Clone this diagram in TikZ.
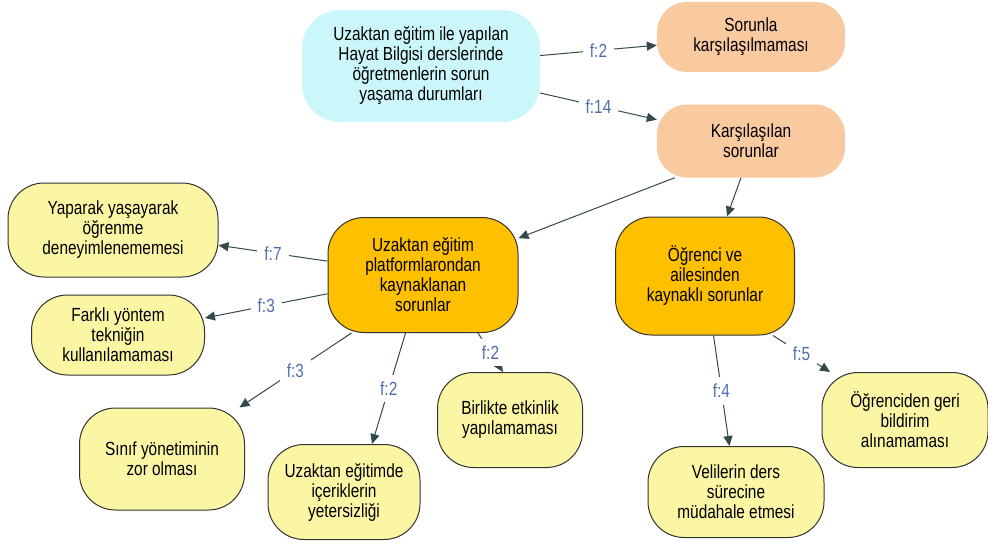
\documentclass[tikz,border=0pt]{standalone}
\usepackage{fontspec}
\setmainfont{Liberation Sans}[FakeStretch=0.81]
\usetikzlibrary{arrows.meta}

\definecolor{rootcyan}{HTML}{CCF7FA}
\definecolor{peach}{HTML}{F9C9A0}
\definecolor{gold}{HTML}{FFC000}
\definecolor{paleyellow}{HTML}{FBF6A4}
\definecolor{edgegray}{HTML}{34494B}
\definecolor{freqblue}{HTML}{4F6EAE}

\begin{document}
\begin{tikzpicture}[x=1pt,y=-1pt]
        \tikzset{box/.style={rounded corners=30pt,align=center,inner sep=0pt,
                font=\fontsize{19}{20}\selectfont},
            rootbox/.style={box,fill=rootcyan,rounded corners=38pt},
            peachbox/.style={box,fill=peach},
            goldbox/.style={box,fill=gold,draw=black!80,line width=1pt,rounded corners=36pt},
            leafbox/.style={box,fill=paleyellow,draw=black!80,line width=1pt,rounded corners=36pt},
            freq/.style={fill=white,text=freqblue,inner sep=7pt,
                font=\fontsize{19}{20}\selectfont},
            conn/.style={draw=edgegray,line width=1pt,-{Triangle[length=10pt,width=9pt]}}}
        \useasboundingbox (0,0) rectangle (988,543);

        % top level
        \node[rootbox,minimum width=238pt,minimum height=112pt] (root) at (421,66)
            {Uzaktan eğitim ile yapılan\\Hayat Bilgisi derslerinde\\öğretmenlerin sorun\\yaşama durumları};
        \node[peachbox,minimum width=188pt,minimum height=70pt] (nosorun) at (751,37)
            {Sorunla\\karşılaşılmaması};
        \node[peachbox,minimum width=188pt,minimum height=73pt] (sorun) at (751,141)
            {Karşılaşılan\\sorunlar};

        % problem groups
        \node[goldbox,minimum width=190pt,minimum height=115pt] (platform) at (423,275)
            {Uzaktan eğitim\\platformlarondan\\kaynaklanan\\sorunlar};
        \node[goldbox,minimum width=179pt,minimum height=118pt] (ogrenci) at (705,276)
            {Öğrenci ve\\ailesinden\\kaynaklı sorunlar};

        % leaves
        \node[leafbox,minimum width=210pt,minimum height=94pt] (yaparak) at (113,230)
            {Yaparak yaşayarak\\öğrenme\\deneyimlenememesi};
        \node[leafbox,minimum width=173pt,minimum height=80pt] (yontem) at (118,335)
            {Farklı yöntem\\tekniğin\\kullanılamaması};
        \node[leafbox,minimum width=165pt,minimum height=102pt] (sinif) at (162,459)
            {Sınıf yönetiminin\\zor olması};
        \node[leafbox,minimum width=152pt,minimum height=95pt] (icerik) at (344,492)
            {Uzaktan eğitimde\\içeriklerin\\yetersizliği};
        \node[leafbox,minimum width=145pt,minimum height=95pt] (birlikte) at (510,420)
            {Birlikte etkinlik\\yapılamaması};
        \node[leafbox,minimum width=176pt,minimum height=91pt] (veli) at (736,492)
            {Velilerin ders\\sürecine\\müdahale etmesi};
        \node[leafbox,minimum width=166pt,minimum height=95pt] (geri) at (905,420)
            {Öğrenciden geri\\bildirim\\alınamaması};

        % connectors
        \draw[conn] (root) -- node[freq] {f:2} (nosorun);
        \draw[conn] (root) -- node[freq] {f:14} (sorun);
        \draw[conn] ([xshift=18pt]sorun.south west) -- (platform);
        \draw[conn] ([xshift=-10pt]sorun.south) -- ([xshift=22pt]ogrenci.north);
        \draw[conn] (platform) -- node[freq] {f:7} (yaparak);
        \draw[conn] (platform) -- node[freq] {f:3} (yontem);
        \draw[conn] ([xshift=24pt]platform.south west) -- node[freq] {f:3} (sinif);
        \draw[conn] (platform) -- node[freq] {f:2} ([xshift=28pt]icerik.north);
        \draw[conn] ([xshift=55pt]platform.south) -- node[freq] {f:2} ([xshift=-7pt]birlikte.north);
        \draw[conn] (ogrenci) -- node[freq] {f:4} (veli);
        \draw[conn] ([xshift=-22pt]ogrenci.south east) -- node[freq] {f:5} (geri);
\end{tikzpicture}
\end{document}
